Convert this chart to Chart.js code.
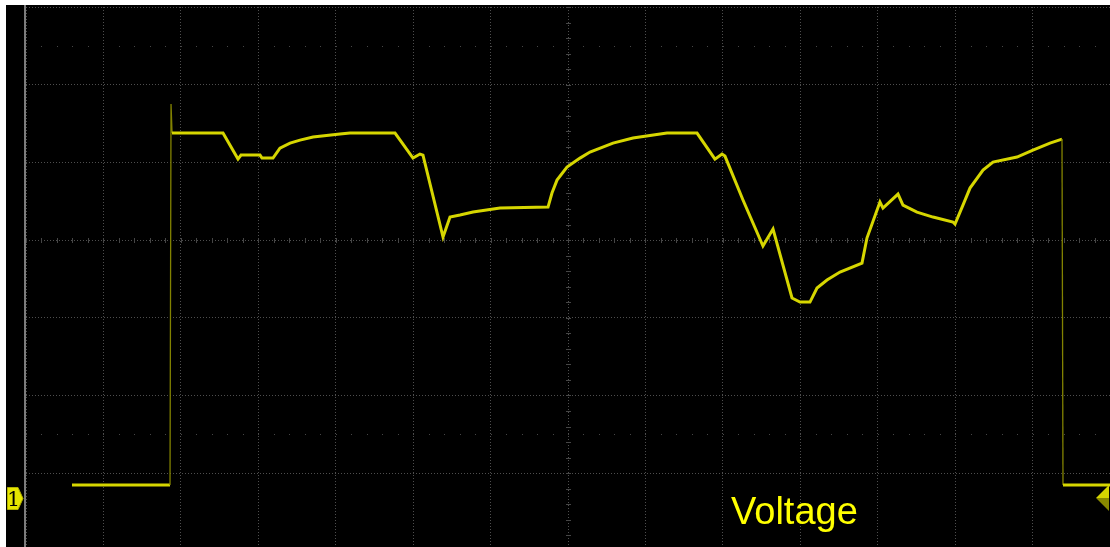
<!DOCTYPE html>
<html>
<head>
<meta charset="utf-8">
<script src="https://cdn.jsdelivr.net/npm/chart.js@4.4.0/dist/chart.umd.min.js"></script>
<style>
  html, body { margin: 0; padding: 0; background: #fff; }
  #wrap { position: relative; width: 1110px; height: 547px; overflow: hidden; }
  #screen { position: absolute; left: 6px; top: 5px; width: 1104px; height: 542px; background: #000; }
  #edge { position: absolute; left: 24px; top: 5px; width: 2px; height: 542px; background: #7c7c7c; }
  #chartBox { position: absolute; left: 0; top: 0; width: 1110px; height: 547px; }
  #label { position: absolute; left: 731px; top: 489px; font-family: "Liberation Sans", Arial, sans-serif;
           font-size: 38px; color: #ffff00; line-height: 44px; }
  .mark { position: absolute; }
</style>
</head>
<body>
<div id="wrap">
  <div id="screen"></div>
  <div id="edge"></div>
  <div id="chartBox"><canvas id="scope"></canvas></div>
  <div id="label">Voltage</div>
  <!-- channel 1 marker -->
  <svg class="mark" style="left:7px;top:487px" width="17" height="24">
    <path d="M0.5 0.5 H11 L16 11.5 L11 22.5 H0.5 Z" fill="#e6e600" stroke="#b0b000" stroke-width="1"/>
    <text x="6.5" y="19" text-anchor="middle" font-family="DejaVu Serif, serif" font-size="20" fill="#000">1</text>
  </svg>
  <!-- trigger level marker -->
  <svg class="mark" style="left:1095px;top:485px" width="15" height="27">
    <polygon points="1,13 14,0 14,13" fill="#d6d600"/>
    <polygon points="1,13 14,13 14,26" fill="#8a8a00"/>
  </svg>
</div>
<script>
// 時間軸 (div) と電圧 (div) - 画像から読み取り
const timeDiv = [0.594, 1.860, 1.873, 1.886, 2.544, 2.738, 2.777, 3.022, 3.048, 3.190,
  3.280, 3.410, 3.539, 3.707, 4.055, 4.184, 4.766, 4.998, 5.088, 5.127,
  5.386, 5.476, 5.605, 5.773, 6.122, 6.742, 6.793, 6.858, 6.987, 7.155,
  7.284, 7.581, 7.839, 8.278, 8.666, 8.898, 8.989, 9.027, 9.260, 9.518,
  9.648, 9.893, 9.996, 10.125, 10.216, 10.345, 10.513, 10.797, 10.861, 11.029,
  11.068, 11.262, 11.326, 11.507, 11.714, 11.972, 11.998, 12.101, 12.192, 12.360,
  12.489, 12.799, 13.005, 13.225, 13.380, 13.393, 14.0];
const voltDiv = [-3.153, -3.153, 1.750, 1.377, 1.377, 1.042, 1.094, 1.094, 1.055, 1.055,
  1.184, 1.248, 1.287, 1.326, 1.364, 1.377, 1.377, 1.055, 1.107, 1.094,
  0.039, 0.296, 0.322, 0.360, 0.412, 0.425, 0.605, 0.772, 0.940, 1.055,
  1.133, 1.248, 1.313, 1.377, 1.377, 1.042, 1.107, 1.081, 0.515, -0.077,
  0.142, -0.746, -0.798, -0.798, -0.618, -0.515, -0.412, -0.296, 0.026, 0.489,
  0.412, 0.592, 0.450, 0.360, 0.296, 0.232, 0.206, 0.450, 0.669, 0.901,
  1.004, 1.068, 1.158, 1.248, 1.300, -3.153, -3.153];

// グリッド位置
const xGridDivs = [0, 1, 2, 3, 4, 5, 6, 7, 8, 9, 10, 11, 12, 13, 14];
const yGridDivs = [3, 2, 1, 0, -1, -2, -3];
const xRange = [0, 14];
const yRange = [-3.951, 3];

const traceColor = '#d6d600';
const gridColor = 'rgb(78,78,78)';
const decorColor = 'rgb(70,70,70)';

const points = timeDiv.map((t, i) => ({ x: t, y: voltDiv[i] }));

function isEdge(ctx) {
  const dx = Math.abs(ctx.p1.parsed.x - ctx.p0.parsed.x);
  const dy = Math.abs(ctx.p1.parsed.y - ctx.p0.parsed.y);
  return dy / Math.max(dx, 1e-6) > 15;
}

// 中心線の目盛りと補助ドット
const scopeDecor = {
  id: 'scopeDecor',
  beforeDatasetsDraw(chart) {
    const { ctx, scales: { x, y } } = chart;
    ctx.save();
    ctx.fillStyle = decorColor;
    const cx = x.getPixelForValue(7);
    const cy = y.getPixelForValue(0);
    for (let v = xRange[0]; v <= xRange[1] + 1e-9; v += 0.2) {
      const px = Math.round(x.getPixelForValue(v));
      ctx.fillRect(px, Math.round(cy) - 2, 1, 5);
      ctx.fillRect(px, Math.round(y.getPixelForValue(2.5)), 1, 1);
      ctx.fillRect(px, Math.round(y.getPixelForValue(-2.5)), 1, 1);
    }
    for (let v = 3; v >= yRange[0]; v -= 0.2) {
      const py = Math.round(y.getPixelForValue(v));
      ctx.fillRect(Math.round(cx) - 2, py, 5, 1);
    }
    ctx.restore();
  }
};

new Chart(document.getElementById('scope'), {
  type: 'line',
  data: {
    datasets: [{
      label: 'Voltage',
      data: points,
      borderColor: traceColor,
      borderWidth: 3,
      pointRadius: 0,
      tension: 0,
      fill: false,
      segment: {
        borderWidth: ctx => isEdge(ctx) ? 1.3 : 3,
        borderColor: ctx => isEdge(ctx) ? 'rgba(130,130,0,1)' : traceColor
      }
    }]
  },
  options: {
    responsive: true,
    maintainAspectRatio: false,
    animation: false,
    layout: { padding: { left: 26, top: 7, right: 0, bottom: 0 } },
    plugins: { legend: { display: false }, tooltip: { enabled: false } },
    scales: {
      x: {
        type: 'linear',
        min: xRange[0], max: xRange[1],
        afterBuildTicks: s => { s.ticks = xGridDivs.map(v => ({ value: v })); },
        ticks: { display: false },
        border: { display: false, dash: [1, 2] },
        grid: { color: gridColor, drawTicks: false, lineWidth: 1 }
      },
      y: {
        type: 'linear',
        min: yRange[0], max: yRange[1],
        afterBuildTicks: s => { s.ticks = yGridDivs.map(v => ({ value: v })); },
        ticks: { display: false },
        border: { display: false, dash: [1, 2] },
        grid: { color: gridColor, drawTicks: false, lineWidth: 1 }
      }
    }
  },
  plugins: [scopeDecor]
});
</script>
</body>
</html>
